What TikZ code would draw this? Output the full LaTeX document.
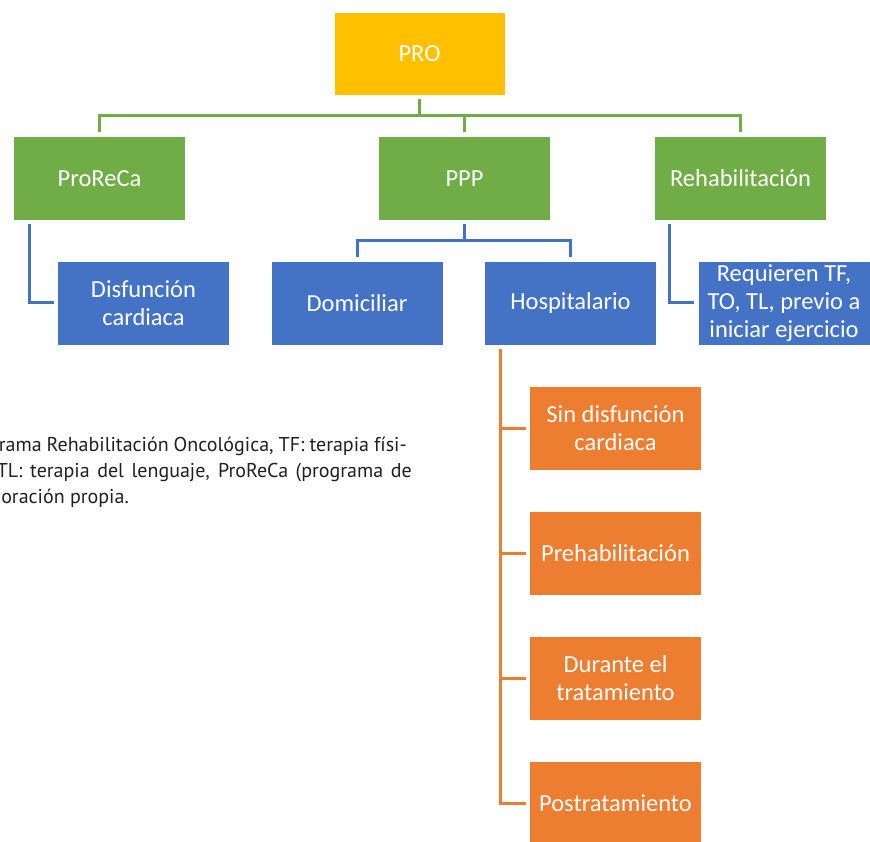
\documentclass[tikz,border=0pt]{standalone}
\usepackage{fontspec}
\setmainfont{Carlito}
\newfontfamily\notefont{PT Sans}

\definecolor{proyellow}{HTML}{FFC000}
\definecolor{progreen}{HTML}{70AD47}
\definecolor{problue}{HTML}{4472C4}
\definecolor{proorange}{HTML}{ED7D31}
\definecolor{notegray}{HTML}{231F20}

\tikzset{
  box/.style={rectangle, draw=white, line width=0.8pt, text=white,
    minimum width=172pt, minimum height=84pt, inner sep=0pt, outer sep=4pt,
    align=center, font=\fontsize{24.5}{28}\selectfont},
  yellowbox/.style={box, fill=proyellow, minimum width=171pt, minimum height=83pt},
  greenbox/.style={box, fill=progreen},
  bluebox/.style={box, fill=problue},
  orangebox/.style={box, fill=proorange},
  link/.style={line width=3pt},
  note/.style={text=notegray, inner sep=0pt, anchor=base east,
    font=\notefont\fontsize{20}{26}\selectfont}
}

\begin{document}
\begin{tikzpicture}[x=1pt,y=-1pt]
\useasboundingbox (0,0) rectangle (870,842);
\clip (0,0) rectangle (870,842);

\node[yellowbox] (pro) at (419.5,53.5) {PRO};
\node[greenbox] (proreca) at (99.5,178.5) {ProReCa};
\node[greenbox] (ppp) at (464.5,178.5) {PPP};
\node[greenbox] (rehab) at (740.5,178.5) {Rehabilitación};

\node[bluebox] (disf) at (143.5,303) {Disfunción\\cardiaca};
\node[bluebox] (domic) at (357,303) {Domiciliar};
\node[bluebox] (hosp) at (570.5,303) {Hospitalario};
\node[bluebox] (req) at (784,303) {Requieren TF,\\TO, TL, previo a\\iniciar ejercicio};

\node[orangebox] (sin) at (615.5,428) {Sin disfunción\\cardiaca};
\node[orangebox] (preh) at (615.5,553) {Prehabilitación};
\node[orangebox] (dur) at (615.5,678) {Durante el\\tratamiento};
\node[orangebox] (post) at (615.5,803) {Postratamiento};

\node[note] (note1) at (407,451) {\makebox[408pt][s]{rama Rehabilitación Oncológica, TF: terapia físi-}};
\node[note] (note2) at (412,477) {\makebox[415pt][s]{TL: terapia del lenguaje, ProReCa (programa de}};
\node[note] (note3) at (129,503) {oración propia.};

% green level
\draw[link, progreen] (pro.south) -- ++(0,17) coordinate (gbus);
\draw[link, progreen] (proreca.north) |- (gbus) -| (rehab.north);
\draw[link, progreen] (ppp.north) -- (ppp.north |- gbus);

% blue level
\draw[link, problue] (ppp.south) -- ++(0,16) coordinate (bbus);
\draw[link, problue] (domic.north) |- (bbus) -| (hosp.north);
\draw[link, problue] ([xshift=20pt]proreca.south west) |- (disf.west);
\draw[link, problue] ([xshift=19pt]rehab.south west) |- (req.west);

% orange level
\coordinate (trunk) at ([xshift=20pt]hosp.south west);
\draw[link, proorange] (trunk) |- (post.west);
\foreach \b in {sin,preh,dur}
  \draw[link, proorange] (\b.west -| trunk) -- (\b.west);
\end{tikzpicture}
\end{document}
